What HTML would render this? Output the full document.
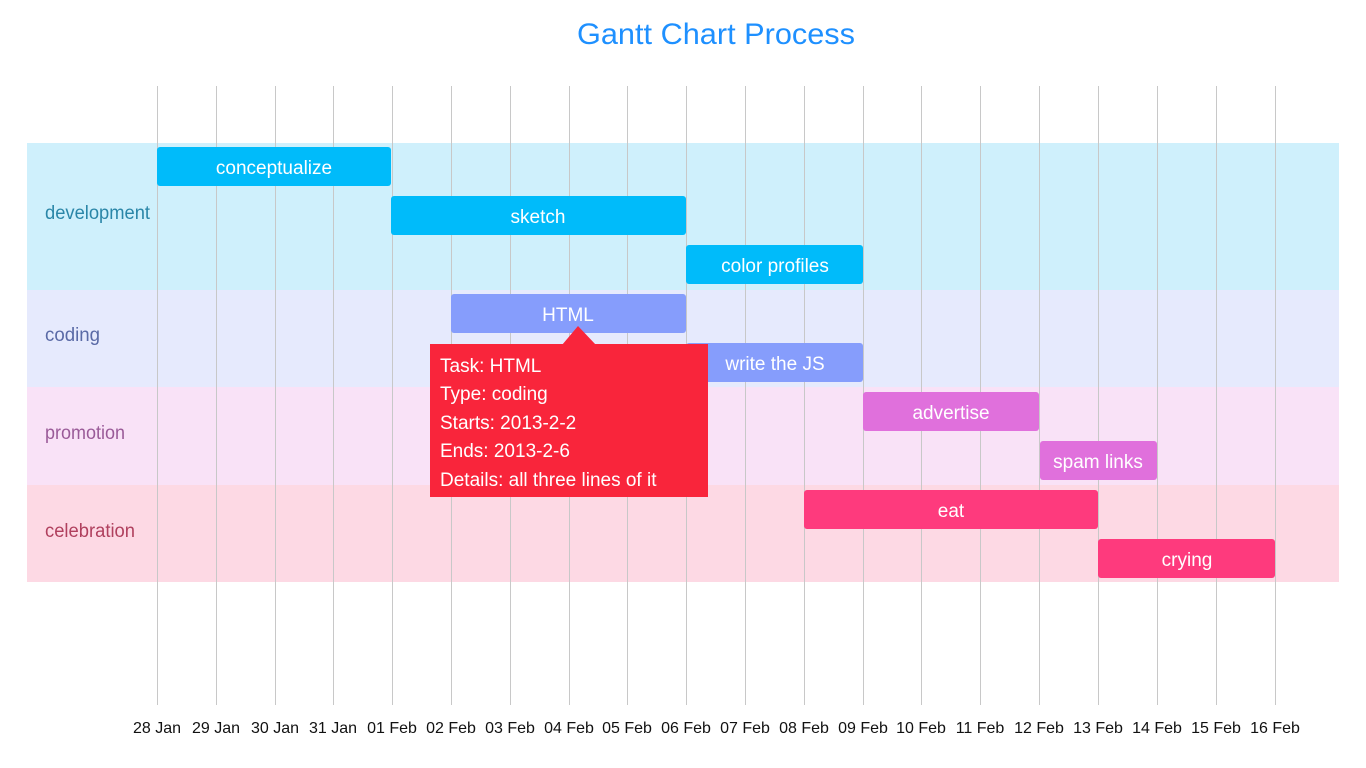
<!DOCTYPE html>
<html><head><meta charset="utf-8"><style>
html,body{margin:0;padding:0;background:#fff;}
svg{display:block;font-family:"Liberation Sans",sans-serif;}
</style></head><body>
<svg width="1366" height="768" xmlns="http://www.w3.org/2000/svg">
<text x="716" y="44" text-anchor="middle" font-size="30" fill="#1e90ff" textLength="278" lengthAdjust="spacingAndGlyphs">Gantt Chart Process</text>
<rect x="27" y="143" width="1312" height="147" fill="#cff0fc"/>
<rect x="27" y="290" width="1312" height="97" fill="#e6eafd"/>
<rect x="27" y="387" width="1312" height="98" fill="#f9e2f7"/>
<rect x="27" y="485" width="1312" height="97" fill="#fdd9e4"/>
<g stroke="#c8c8c8" stroke-width="1">
<line x1="157.5" y1="86" x2="157.5" y2="705"/><line x1="216.5" y1="86" x2="216.5" y2="705"/><line x1="275.5" y1="86" x2="275.5" y2="705"/><line x1="333.5" y1="86" x2="333.5" y2="705"/><line x1="392.5" y1="86" x2="392.5" y2="705"/><line x1="451.5" y1="86" x2="451.5" y2="705"/><line x1="510.5" y1="86" x2="510.5" y2="705"/><line x1="569.5" y1="86" x2="569.5" y2="705"/><line x1="627.5" y1="86" x2="627.5" y2="705"/><line x1="686.5" y1="86" x2="686.5" y2="705"/><line x1="745.5" y1="86" x2="745.5" y2="705"/><line x1="804.5" y1="86" x2="804.5" y2="705"/><line x1="863.5" y1="86" x2="863.5" y2="705"/><line x1="921.5" y1="86" x2="921.5" y2="705"/><line x1="980.5" y1="86" x2="980.5" y2="705"/><line x1="1039.5" y1="86" x2="1039.5" y2="705"/><line x1="1098.5" y1="86" x2="1098.5" y2="705"/><line x1="1157.5" y1="86" x2="1157.5" y2="705"/><line x1="1216.5" y1="86" x2="1216.5" y2="705"/><line x1="1275.5" y1="86" x2="1275.5" y2="705"/>
</g>
<g font-size="19">
<text x="45" y="219" fill="#2a86a8" textLength="105" lengthAdjust="spacingAndGlyphs">development</text>
<text x="45" y="341" fill="#5a6aa6" textLength="55" lengthAdjust="spacingAndGlyphs">coding</text>
<text x="45" y="439" fill="#9a5a98" textLength="80" lengthAdjust="spacingAndGlyphs">promotion</text>
<text x="45" y="537" fill="#b0405e" textLength="90" lengthAdjust="spacingAndGlyphs">celebration</text>
</g>
<g font-size="19" fill="#fff" text-anchor="middle">
<rect x="157" y="147" width="234" height="39" rx="3" fill="#00bbfa"/><text x="274" y="174" fill="#fff">conceptualize</text>
<rect x="391" y="196" width="295" height="39" rx="3" fill="#00bbfa"/><text x="538" y="223" fill="#fff">sketch</text>
<rect x="686" y="245" width="177" height="39" rx="3" fill="#00bbfa"/><text x="775" y="272" fill="#fff">color profiles</text>
<rect x="451" y="294" width="235" height="39" rx="3" fill="#869dfc"/><text x="568" y="321" fill="#fff">HTML</text>
<rect x="686" y="343" width="177" height="39" rx="3" fill="#869dfc"/><text x="775" y="370" fill="#fff">write the JS</text>
<rect x="863" y="392" width="176" height="39" rx="3" fill="#e070dc"/><text x="951" y="419" fill="#fff">advertise</text>
<rect x="1040" y="441" width="117" height="39" rx="3" fill="#e070dc"/><text x="1098" y="468" fill="#fff">spam links</text>
<rect x="804" y="490" width="294" height="39" rx="3" fill="#fe3a7d"/><text x="951" y="517" fill="#fff">eat</text>
<rect x="1098" y="539" width="177" height="39" rx="3" fill="#fe3a7d"/><text x="1187" y="566" fill="#fff">crying</text>
</g>
<polygon points="562,345 578,326 596,345" fill="#f9253b"/>
<rect x="430" y="344" width="278" height="153" fill="#f9253b"/>
<g font-size="19" fill="#fff">
<text x="440" y="372">Task: HTML</text>
<text x="440" y="400">Type: coding</text>
<text x="440" y="429">Starts: 2013-2-2</text>
<text x="440" y="457">Ends: 2013-2-6</text>
<text x="440" y="486">Details: all three lines of it</text>
</g>
<g font-size="16" fill="#111" text-anchor="middle">
<text x="157" y="733">28 Jan</text><text x="216" y="733">29 Jan</text><text x="275" y="733">30 Jan</text><text x="333" y="733">31 Jan</text><text x="392" y="733">01 Feb</text><text x="451" y="733">02 Feb</text><text x="510" y="733">03 Feb</text><text x="569" y="733">04 Feb</text><text x="627" y="733">05 Feb</text><text x="686" y="733">06 Feb</text><text x="745" y="733">07 Feb</text><text x="804" y="733">08 Feb</text><text x="863" y="733">09 Feb</text><text x="921" y="733">10 Feb</text><text x="980" y="733">11 Feb</text><text x="1039" y="733">12 Feb</text><text x="1098" y="733">13 Feb</text><text x="1157" y="733">14 Feb</text><text x="1216" y="733">15 Feb</text><text x="1275" y="733">16 Feb</text>
</g>
</svg>
</body></html>
